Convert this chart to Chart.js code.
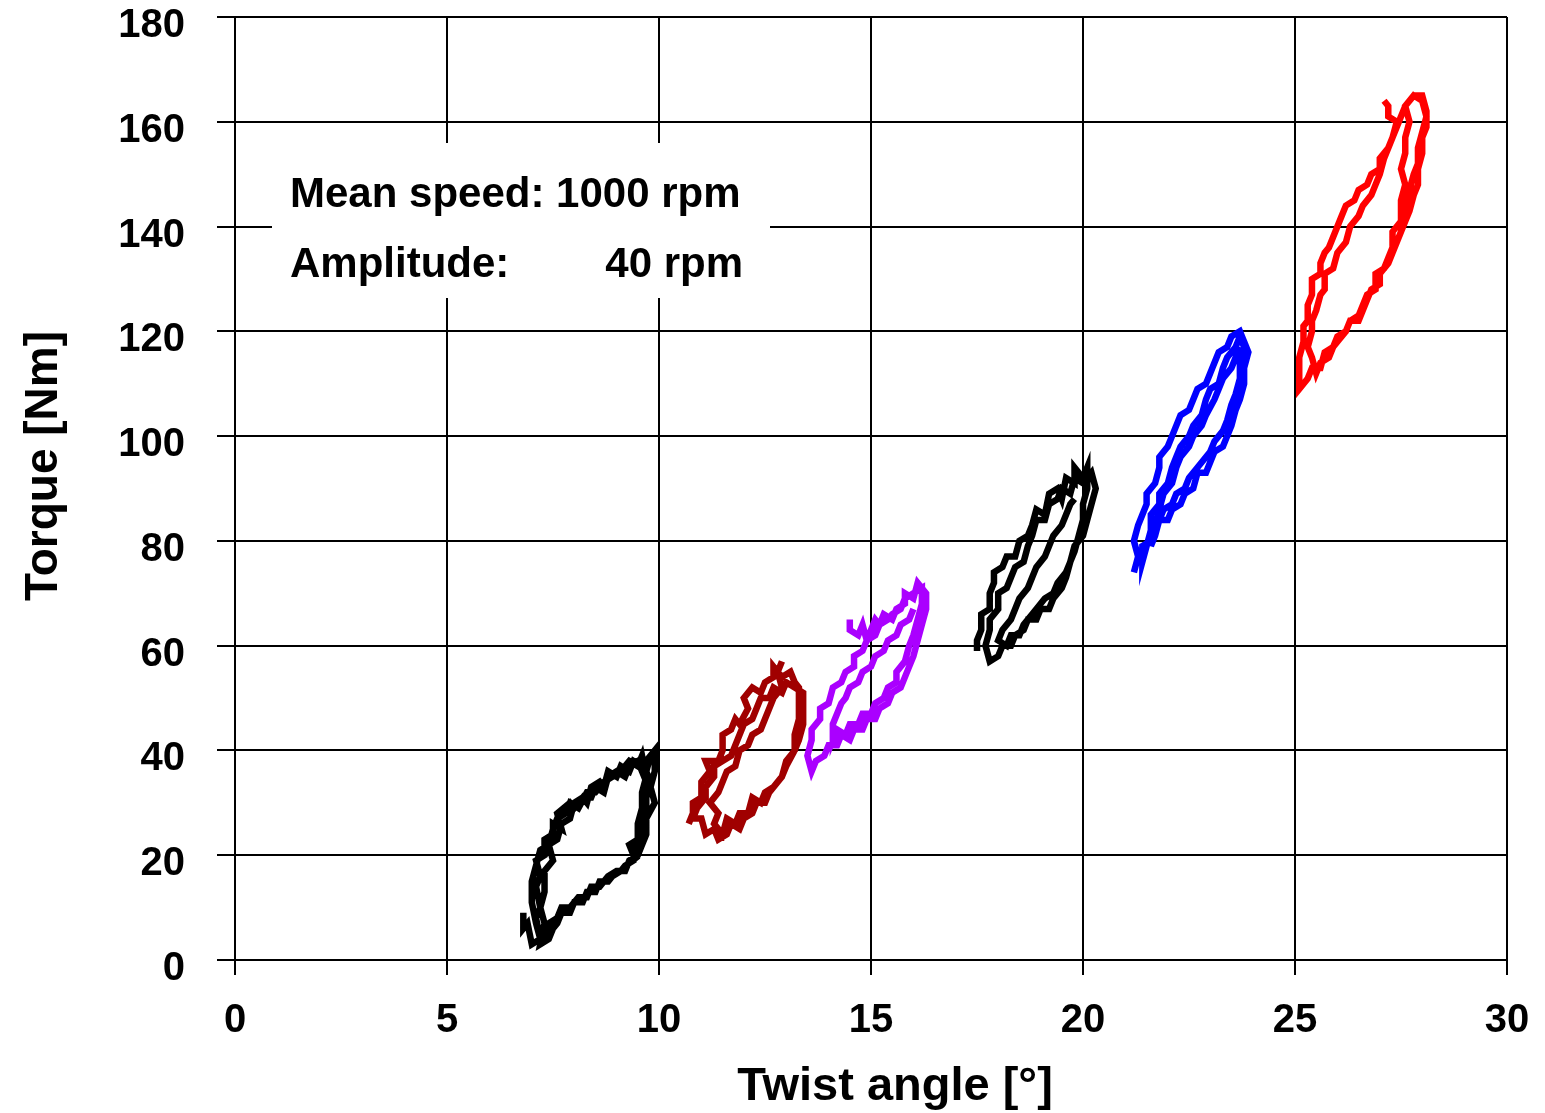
<!DOCTYPE html>
<html>
<head>
<meta charset="utf-8">
<script src="https://cdn.jsdelivr.net/npm/chart.js@4.4.0/dist/chart.umd.min.js"></script>
<style>
html, body { margin: 0; padding: 0; background: #fff; }
</style>
</head>
<body>
<canvas id="myChart" width="1545" height="1113"></canvas>
<script>
// axis ticks
var xTicks = [0, 5, 10, 15, 20, 25, 30];
var yTicks = [0, 20, 40, 60, 80, 100, 120, 140, 160, 180];

// hysteresis loops, [twist angle, torque]
var loop1 = [[6.8,9],[6.8,6],[6.9,7],[7.0,3],[7.2,4],[7.1,8],[7.2,10],[7.1,14],[7.2,16],[7.1,19],[7.3,20],[7.3,23],[7.5,24],[7.5,26],[7.7,25],[7.6,28],[7.9,30],[8.0,29],[8.2,31],[8.3,30],[8.4,33],[8.6,34],[8.7,33],[8.8,36],[9.0,35],[9.1,37],[9.3,36],[9.4,38],[9.6,37],[9.8,39],[9.7,36],[9.8,34],[9.7,31],[9.7,28],[9.6,26],[9.6,23],[9.4,21],[9.4,19],[9.2,18],[9.1,17],[8.9,16],[8.8,15],[8.6,15],[8.5,13],[8.3,13],[8.2,11],[8.0,11],[7.9,9],[7.7,9],[7.6,7],[7.5,6],[7.4,4],[7.2,3],[7.3,7],[7.2,10],[7.3,13],[7.3,17],[7.5,19],[7.4,22],[7.6,23],[7.7,26],[7.9,27],[8.0,30],[8.2,31],[8.4,31],[8.5,33],[8.7,32],[8.8,35],[9.0,36],[9.2,35],[9.3,37],[9.5,38],[9.6,36],[9.7,38],[9.9,40],[9.9,36],[9.8,33],[9.9,30],[9.7,27],[9.7,24],[9.6,22],[9.5,20],[9.3,19],[9.2,17],[9.0,17],[8.8,16],[8.6,14],[8.4,14],[8.3,12],[8.1,12],[7.9,10],[7.7,10],[7.6,8],[7.4,7],[7.4,5],[7.2,4],[7.1,7],[7.0,11],[7.0,15],[7.1,18],[7.2,21],[7.4,22],[7.5,25],[7.6,27],[7.8,28],[7.9,30],[8.1,29],[8.3,32],[8.5,32],[8.7,34],[8.9,35],[9.1,36],[9.3,38],[9.5,37],[9.6,39],[9.7,35],[9.6,32],[9.6,29],[9.5,26],[9.5,23],[9.3,22],[9.4,20],[9.5,19]];
var loop2 = [[10.7,26],[10.8,28],[10.8,30],[11.0,31],[11.0,34],[11.2,36],[11.1,38],[11.4,38],[11.5,40],[11.5,43],[11.7,44],[11.8,46],[11.9,45],[12.1,48],[12.0,50],[12.2,52],[12.4,51],[12.5,53],[12.7,54],[12.7,56],[12.9,54],[13.1,55],[13.2,53],[13.3,52],[13.3,49],[13.3,46],[13.2,43],[13.2,40],[13.0,38],[12.9,35],[12.8,34],[12.6,32],[12.5,30],[12.3,30],[12.2,28],[12.0,27],[11.9,25],[11.7,26],[11.6,24],[11.4,23],[11.3,25],[11.1,24],[11.0,27],[10.8,27],[10.9,29],[11.1,31],[11.1,33],[11.3,35],[11.3,37],[11.5,38],[11.7,39],[11.8,41],[11.9,43],[12.0,45],[12.2,46],[12.3,48],[12.4,50],[12.6,50],[12.7,52],[12.9,51],[13.0,53],[13.2,52],[13.4,51],[13.4,48],[13.4,45],[13.3,42],[13.2,40],[13.0,37],[12.9,35],[12.7,33],[12.5,32],[12.4,30],[12.2,31],[12.1,28],[11.9,28],[11.8,26],[11.6,27],[11.5,24],[11.3,26],[11.4,28],[11.2,30],[11.4,32],[11.5,34],[11.6,36],[11.8,37],[11.9,40],[12.1,41],[12.2,43],[12.4,44],[12.5,46],[12.6,48],[12.7,50],[12.9,52],[12.8,55],[12.9,57]];
var loop3 = [[14.5,65],[14.5,63],[14.7,62],[14.8,64],[14.9,61],[15.0,63],[15.1,65],[15.2,64],[15.3,66],[15.5,65],[15.6,67],[15.8,68],[15.8,70],[16.0,69],[16.1,72],[16.3,70],[16.3,67],[16.2,64],[16.1,61],[16.0,58],[15.9,56],[15.8,54],[15.7,52],[15.5,51],[15.4,49],[15.2,48],[15.1,46],[14.9,46],[14.8,44],[14.6,44],[14.5,42],[14.3,43],[14.2,41],[14.0,41],[13.9,39],[13.7,38],[13.6,36],[13.5,39],[13.6,42],[13.6,44],[13.8,46],[13.8,48],[14.0,49],[14.1,52],[14.3,53],[14.4,55],[14.6,56],[14.6,58],[14.8,59],[14.9,61],[15.1,62],[15.2,64],[15.4,65],[15.5,66],[15.7,67],[15.8,69],[16.0,70],[16.2,71],[16.2,68],[16.1,65],[16.0,62],[15.9,60],[15.8,57],[15.6,55],[15.6,53],[15.4,52],[15.3,50],[15.1,49],[15.0,47],[14.8,47],[14.7,45],[14.5,45],[14.4,43],[14.2,44],[14.1,42],[14.1,45],[14.2,47],[14.3,49],[14.4,50],[14.5,52],[14.7,53],[14.8,55],[15.0,56],[15.1,58],[15.3,59],[15.4,61],[15.6,62],[15.7,64],[15.9,65],[16.0,67]];
var loop4 = [[17.5,59],[17.5,61],[17.6,63],[17.6,66],[17.8,67],[17.8,70],[17.9,72],[17.9,74],[18.1,75],[18.2,77],[18.4,77],[18.5,80],[18.7,81],[18.8,83],[18.9,86],[19.1,85],[19.2,89],[19.4,90],[19.5,88],[19.6,92],[19.8,91],[19.8,94],[20.0,92],[20.1,94],[20.1,90],[20.0,87],[20.0,84],[19.9,81],[19.8,78],[19.7,76],[19.6,73],[19.5,71],[19.3,69],[19.2,67],[19.0,67],[18.9,65],[18.7,65],[18.6,63],[18.4,62],[18.3,60],[18.1,60],[18.0,58],[17.8,57],[17.7,60],[17.8,63],[17.8,65],[18.0,67],[18.0,70],[18.2,71],[18.3,73],[18.4,75],[18.6,76],[18.7,79],[18.8,81],[18.9,84],[19.1,84],[19.2,87],[19.4,88],[19.5,90],[19.7,89],[19.8,92],[20.0,91],[20.2,93],[20.3,90],[20.2,87],[20.1,84],[20.0,81],[19.8,79],[19.7,76],[19.6,74],[19.4,72],[19.3,70],[19.1,69],[18.9,67],[18.8,66],[18.6,64],[18.5,62],[18.3,62],[18.2,60],[18.0,61],[18.1,63],[18.3,65],[18.4,67],[18.5,69],[18.7,71],[18.8,73],[18.9,75],[19.1,77],[19.2,79],[19.3,81],[19.5,83],[19.6,85],[19.7,87],[19.8,88]];
var loop5 = [[21.2,74],[21.3,77],[21.2,80],[21.3,83],[21.4,85],[21.5,87],[21.5,89],[21.7,91],[21.8,94],[21.8,96],[22.0,98],[22.1,100],[22.2,102],[22.3,104],[22.5,105],[22.6,107],[22.7,109],[22.9,110],[23.0,112],[23.1,114],[23.2,116],[23.4,117],[23.5,119],[23.7,120],[23.8,118],[23.9,116],[23.8,113],[23.8,110],[23.7,107],[23.6,105],[23.5,102],[23.4,100],[23.3,98],[23.1,97],[23.0,95],[22.9,93],[22.7,93],[22.6,90],[22.4,89],[22.3,87],[22.1,86],[22.0,84],[21.8,84],[21.7,82],[21.6,80],[21.4,79],[21.4,76],[21.5,79],[21.6,82],[21.6,85],[21.8,87],[21.8,89],[22.0,91],[22.1,94],[22.2,96],[22.3,98],[22.5,100],[22.6,102],[22.8,104],[22.9,107],[23.0,109],[23.2,110],[23.3,113],[23.4,115],[23.6,117],[23.7,119],[23.8,117],[23.7,114],[23.7,111],[23.6,108],[23.5,106],[23.4,103],[23.3,101],[23.1,99],[23.0,97],[22.8,95],[22.7,94],[22.5,92],[22.4,90],[22.2,89],[22.1,87],[21.9,86],[21.8,84],[21.7,81],[21.6,79],[21.7,83],[21.8,86],[21.9,89],[22.1,91],[22.2,94],[22.3,96],[22.5,98],[22.6,100],[22.8,102],[22.9,104],[23.1,107],[23.2,109],[23.3,111],[23.5,113],[23.6,115],[23.7,117]];
var loop6 = [[27.1,164],[27.2,163],[27.2,161],[27.4,160],[27.3,157],[27.2,155],[27.0,153],[27.0,151],[26.8,150],[26.7,148],[26.5,147],[26.4,145],[26.2,144],[26.1,142],[26.0,140],[25.9,138],[25.8,136],[25.7,135],[25.6,133],[25.6,131],[25.4,130],[25.4,127],[25.3,125],[25.3,122],[25.2,121],[25.2,118],[25.1,115],[25.1,112],[25.1,109],[25.3,111],[25.4,113],[25.6,113],[25.7,116],[25.9,117],[26.0,119],[26.2,120],[26.3,122],[26.5,123],[26.6,125],[26.7,127],[26.9,128],[26.9,131],[27.1,132],[27.2,134],[27.3,136],[27.3,139],[27.5,141],[27.5,145],[27.6,148],[27.5,151],[27.6,154],[27.6,157],[27.7,160],[27.6,163],[27.8,165],[28.0,165],[28.1,162],[28.1,159],[28.0,157],[28.0,154],[27.9,151],[27.9,148],[27.8,146],[27.7,143],[27.6,141],[27.5,139],[27.4,137],[27.3,135],[27.2,133],[27.0,131],[27.0,129],[26.8,128],[26.7,126],[26.6,124],[26.5,122],[26.3,122],[26.2,120],[26.0,118],[25.9,117],[25.8,115],[25.6,114],[25.5,112],[25.4,115],[25.3,117],[25.4,120],[25.4,122],[25.5,124],[25.6,127],[25.7,128],[25.7,131],[25.9,132],[26.0,135],[26.2,137],[26.3,140],[26.5,142],[26.6,144],[26.8,146],[26.9,148],[27.0,150],[27.1,153],[27.2,155],[27.3,157],[27.4,159],[27.5,161],[27.6,163],[27.8,165],[28.0,164],[28.1,161],[28.0,158],[27.9,155],[27.9,152],[27.8,150],[27.7,147],[27.6,144],[27.6,142],[27.5,139]];

var loops = [loop1, loop2, loop3, loop4, loop5, loop6];
var loopColors = ['#000000', '#a00000', '#aa00ff', '#000000', '#0000ff', '#ff0000'];

var boldFont = '"Liberation Sans", Arial, sans-serif';

// white note box with the test conditions
var noteBox = {
  id: 'noteBox',
  beforeDatasetsDraw: function(chart) {
    var c = chart.ctx;
    c.save();
    c.fillStyle = '#fff';
    c.fillRect(272, 143, 498, 155);
    c.fillStyle = '#000';
    c.font = 'bold 42px ' + boldFont;
    c.textBaseline = 'alphabetic';
    c.textAlign = 'left';
    c.fillText('Mean speed: 1000 rpm', 290, 207);
    c.fillText('Amplitude:', 290, 277);
    c.textAlign = 'right';
    c.fillText('40 rpm', 743, 277);
    c.restore();
  },
  afterDraw: function(chart) {
    // axis titles, placed like the original
    var c = chart.ctx;
    c.save();
    c.fillStyle = '#000';
    c.font = 'bold 47px ' + boldFont;
    c.textAlign = 'center';
    c.textBaseline = 'alphabetic';
    c.fillText('Twist angle [°]', 895, 1100);
    c.font = 'bold 46px ' + boldFont;
    c.translate(57, 466);
    c.rotate(-Math.PI / 2);
    c.fillText('Torque [Nm]', 0, 0);
    c.restore();
  }
};

var datasets = loops.map(function(loop, i) {
  return {
    data: loop.map(function(p) { return {x: p[0], y: p[1]}; }),
    borderColor: loopColors[i],
    borderWidth: 6.5,
    pointRadius: 0,
    fill: false,
    tension: 0,
    showLine: true
  };
});

ctx = document.getElementById('myChart');
var myChart = new Chart(ctx, {
  type: 'scatter',
  data: { datasets: datasets },
  plugins: [noteBox],
  options: {
    responsive: false,
    animation: false,
    layout: { padding: { top: 17, right: 38, left: 0, bottom: 0 } },
    plugins: { legend: { display: false }, tooltip: { enabled: false } },
    scales: {
      x: {
        type: 'linear',
        min: xTicks[0],
        max: xTicks[xTicks.length - 1],
        afterBuildTicks: function(s) { s.ticks = xTicks.map(function(v) { return {value: v}; }); },
        afterFit: function(s) { s.height = 153; s.paddingLeft = 0; s.paddingRight = 0; },
        grid: { color: '#000', lineWidth: 2, tickLength: 15, tickColor: '#000' },
        border: { color: '#000', width: 2 },
        ticks: { color: '#000', font: { family: boldFont, size: 40, weight: 'bold' }, padding: 22, maxRotation: 0 }
      },
      y: {
        type: 'linear',
        min: yTicks[0],
        max: yTicks[yTicks.length - 1],
        afterBuildTicks: function(s) { s.ticks = yTicks.map(function(v) { return {value: v}; }); },
        afterFit: function(s) { s.width = 235; s.paddingTop = 0; s.paddingBottom = 0; },
        grid: { color: '#000', lineWidth: 2, tickLength: 18, tickColor: '#000' },
        border: { color: '#000', width: 2 },
        ticks: { color: '#000', font: { family: boldFont, size: 40, weight: 'bold' }, padding: 32, labelOffset: 9 }
      }
    }
  }
});
</script>
</body>
</html>
